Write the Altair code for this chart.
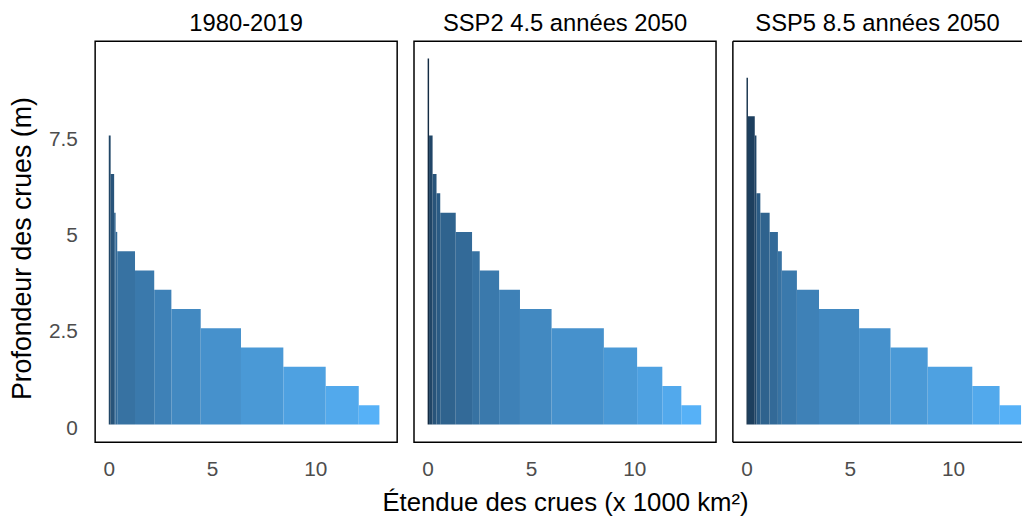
import altair as alt
import pandas as pd

# ---- data ----
panel_titles = ["1980-2019", "SSP2 4.5 années 2050", "SSP5 8.5 années 2050"]
base_depth = 0.1          # bottom of the first depth class (m)
class_step = 0.5          # depth class height (m)

# flooded extent (x 1000 km2) with depth above each class bottom, one value per 0.5 m class
extent_1980 = [13.1, 12.1, 10.5, 8.45, 6.4, 4.45, 3.03, 2.2, 1.27, 0.41, 0.33, 0.26, 0.26, 0.09, 0.09]
extent_ssp2 = [13.24, 12.28, 11.36, 10.14, 8.53, 6.0, 4.47, 3.46, 2.52, 2.15, 1.36, 0.61, 0.43,
               0.24, 0.24, 0.07, 0.07, 0.07, 0.07]
extent_ssp5 = [13.29, 12.25, 10.93, 8.77, 6.97, 5.45, 3.51, 2.44, 1.71, 1.52, 1.12, 0.67, 0.48,
               0.48, 0.48, 0.40, 0.07, 0.07]

x_ticks = [0, 5, 10]
y_ticks = [0, 2.5, 5, 7.5]

series = [extent_1980, extent_ssp2, extent_ssp5]


def build_table(extents):
    rows = []
    for j, e in enumerate(extents):
        nxt = extents[j + 1] if j + 1 < len(extents) else 0.0
        top = base_depth + class_step * (j + 1)
        rows.append({"x_start": nxt, "x_end": e, "y_bottom": base_depth,
                     "y_top": top, "classe": top})
    return pd.DataFrame(rows)


FONT = "Liberation Sans"
W, H = 305, 405
W3 = 292
X_DOM = [-0.66, 13.96]
X_DOM3 = [-0.66, -0.66 + W3 * (X_DOM[1] - X_DOM[0]) / W]
Y_DOM = [-0.36, 10.05]
LABEL_EXPR = "'' + datum.value"

color = alt.Color("classe:Q",
                  scale=alt.Scale(domain=[0.6, 9.6], range=["#56B1F7", "#132B43"],
                                  interpolate="lab"),
                  legend=None)


def panel(i):
    df = build_table(series[i])
    width = W3 if i == 2 else W
    xdom = X_DOM3 if i == 2 else X_DOM
    x_axis = alt.Axis(values=x_ticks, labelExpr=LABEL_EXPR, grid=False, ticks=False,
                      domain=False, labelFontSize=21, labelColor="#4d4d4d",
                      labelPadding=17, labelFont=FONT,
                      title="Étendue des crues (x 1000 km²)" if i == 1 else None,
                      titleFontSize=26, titleFontWeight="normal", titleColor="black",
                      titlePadding=10, titleFont=FONT)
    if i == 0:
        y_axis = alt.Axis(values=y_ticks, labelExpr=LABEL_EXPR, grid=False, ticks=False,
                          domain=False, labelFontSize=21, labelColor="#4d4d4d",
                          labelPadding=18, labelFont=FONT,
                          title="Profondeur des crues (m)", titleFontSize=27,
                          titleFontWeight="normal", titleColor="black",
                          titlePadding=12, titleFont=FONT, titleY=209)
    else:
        y_axis = None
    bars = alt.Chart(df).mark_rect(strokeWidth=0).encode(
        x=alt.X("x_start:Q", scale=alt.Scale(domain=xdom, nice=False, zero=False),
                axis=x_axis),
        x2="x_end",
        y=alt.Y("y_bottom:Q", scale=alt.Scale(domain=Y_DOM, nice=False, zero=False),
                axis=y_axis),
        y2="y_top",
        color=color,
    )
    title = alt.TitleParams(panel_titles[i], fontSize=24, fontWeight="normal",
                            color="black", font=FONT, offset=5, anchor="middle")
    if i == 2:
        frame_data = alt.Data(values=[{"k": 0}])
        left = alt.Chart(frame_data).mark_rule(color="black", strokeWidth=1.5).encode(
            x=alt.value(0), y=alt.value(0), y2=alt.value(H))
        top = alt.Chart(frame_data).mark_rule(color="black", strokeWidth=1.5).encode(
            x=alt.value(0), x2=alt.value(width), y=alt.value(0))
        bottom = alt.Chart(frame_data).mark_rule(color="black", strokeWidth=1.5).encode(
            x=alt.value(0), x2=alt.value(width), y=alt.value(H))
        return alt.layer(bars, left, top, bottom).properties(
            width=width, height=H, title=title,
            view=alt.ViewConfig(stroke="transparent"))
    return bars.properties(width=width, height=H, title=title)


chart = alt.hconcat(panel(0), panel(1), panel(2), spacing=17, bounds="flush").resolve_scale(
    x="independent", y="independent"
).configure(
    font=FONT, padding=0, background="white"
).configure_view(
    stroke="black", strokeWidth=1.5
)

chart.save("out.html", embed_options={"renderer": "svg", "actions": False})
